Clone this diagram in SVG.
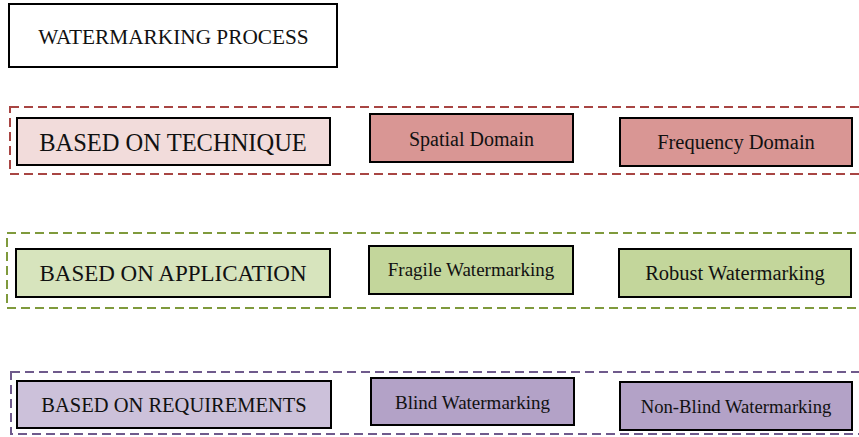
<svg xmlns="http://www.w3.org/2000/svg" width="859" height="437" viewBox="0 0 859 437">
<style>
text{font-family:"Liberation Serif","Times New Roman",serif;fill:#111;text-anchor:middle}
.box{stroke:#000;stroke-width:2}
.grp{fill:none;stroke-width:2;stroke-dasharray:9 5}
</style>
<rect width="859" height="437" fill="#fff"/>
<g id="groups">
<rect id="g-tech" class="grp" x="10" y="107" width="860" height="67" stroke="#a84543"/>
<rect id="g-app" class="grp" x="7" y="233" width="863" height="75" stroke="#7f9a3c"/>
<rect id="g-req" class="grp" x="11" y="372" width="859" height="62" stroke="#6f5a8c"/>
</g>
<g id="title"><rect class="box" x="9" y="4" width="328" height="63" fill="#fff"/><text x="173.5" y="44" font-size="21.3">WATERMARKING PROCESS</text></g>
<g id="technique"><rect class="box" x="17" y="118" width="313" height="47" fill="#f2dcdb"/><text x="173" y="151" font-size="24.5">BASED ON TECHNIQUE</text></g>
<g id="spatial"><rect class="box" x="370" y="114" width="203" height="48" fill="#d99694"/><text x="471.5" y="146" font-size="20">Spatial Domain</text></g>
<g id="frequency"><rect class="box" x="620" y="118" width="232" height="48" fill="#d99694"/><text x="736" y="149" font-size="20.5">Frequency Domain</text></g>
<g id="application"><rect class="box" x="16" y="249" width="314" height="48" fill="#d7e4bd"/><text x="173" y="281" font-size="23">BASED ON APPLICATION</text></g>
<g id="fragile"><rect class="box" x="369" y="246" width="204" height="48" fill="#c3d69b"/><text x="471" y="276" font-size="19">Fragile Watermarking</text></g>
<g id="robust"><rect class="box" x="619" y="249" width="232" height="48" fill="#c3d69b"/><text x="735" y="280" font-size="20.5">Robust Watermarking</text></g>
<g id="requirements"><rect class="box" x="17" y="381" width="314" height="47" fill="#ccc1da"/><text x="174" y="412" font-size="20.5">BASED ON REQUIREMENTS</text></g>
<g id="blind"><rect class="box" x="371" y="378" width="203" height="47" fill="#b3a2c7"/><text x="472.5" y="409" font-size="19">Blind Watermarking</text></g>
<g id="nonblind"><rect class="box" x="620" y="382" width="232" height="48" fill="#b3a2c7"/><text x="736" y="413" font-size="18.7">Non-Blind Watermarking</text></g>
</svg>
